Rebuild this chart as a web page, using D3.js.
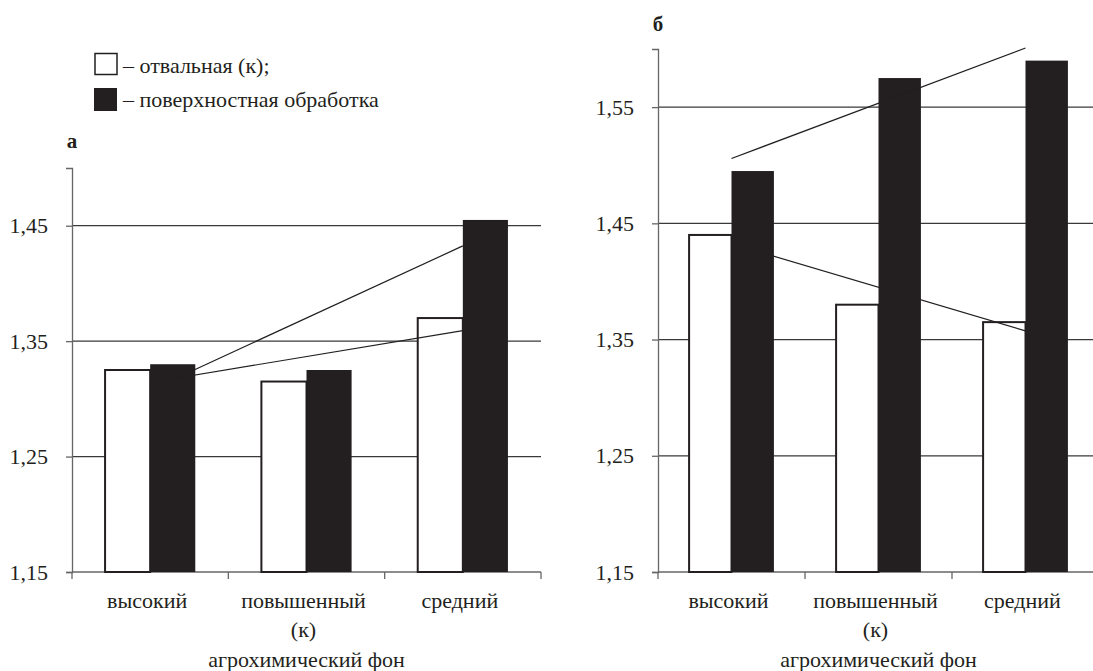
<!DOCTYPE html>
<html>
<head>
<meta charset="utf-8">
<script src="https://cdn.jsdelivr.net/npm/d3@7"></script>
</head>
<body style="margin:0;padding:0;background:#fff">
<svg id="fig" width="1093" height="671"></svg>
<script>
// ---- data ----
const categories = ["высокий", "повышенный\n(к)", "средний"];
const seriesNames = ["– отвальная (к);", "– поверхностная обработка"];
const panelA_plough = [1.325, 1.315, 1.37];
const panelA_surface = [1.33, 1.325, 1.455];
const panelB_plough = [1.44, 1.38, 1.365];
const panelB_surface = [1.495, 1.575, 1.59];
const panelA_ticks = [1.15, 1.25, 1.35, 1.45];
const panelB_ticks = [1.15, 1.25, 1.35, 1.45, 1.55];
const xTitle = "агрохимический фон";

const FONT = "Liberation Serif";
const FS = 22;
const svg = d3.select("#fig");
const ink = "#231f20";
const fmt = v => d3.format(".2f")(v).replace(".", ",");
const serif = sel => sel.attr("font-family", FONT).style("font-family", "'Liberation Serif', serif", "important");

function linFit(vals) {
  const n = vals.length, xs = d3.range(n);
  const mx = d3.mean(xs), my = d3.mean(vals);
  const b = d3.sum(xs, (x, i) => (x - mx) * (vals[i] - my)) / d3.sum(xs, x => (x - mx) ** 2);
  return x => my + b * (x - mx);
}

function panel(cfg) {
  const g = svg.append("g");
  const x = d3.scaleBand().domain(categories).range([cfg.x0, cfg.x1]).padding(0);
  const y = d3.scaleLinear().domain(cfg.domain).range([572, cfg.top]);
  const bw = x.step() * 0.2885;

  g.append("g").selectAll("line").data(cfg.ticks.slice(1)).join("line")
    .attr("x1", cfg.x0).attr("x2", cfg.x1)
    .attr("y1", d => y(d)).attr("y2", d => y(d))
    .attr("stroke", "#3a3a3a").attr("stroke-width", 1.2);

  const ya = g.append("g").attr("transform", `translate(${cfg.x0},0)`)
    .call(d3.axisLeft(y).tickValues(cfg.ticks).tickFormat(fmt).tickSize(6).tickPadding(18));
  ya.call(serif).attr("font-size", FS);
  ya.select(".domain").attr("stroke", "#666").attr("stroke-width", 1.3);
  ya.selectAll(".tick line").attr("stroke", "#666").attr("stroke-width", 1.3);
  ya.selectAll(".tick text").call(serif).attr("font-size", FS).attr("fill", ink);

  g.append("line").attr("x1", cfg.x0).attr("x2", cfg.x1).attr("y1", y(cfg.domain[0])).attr("y2", y(cfg.domain[0]))
    .attr("stroke", "#666").attr("stroke-width", 1.3);
  const bounds = categories.map(c => x(c)).concat([cfg.x1]);
  g.append("g").selectAll("line").data(bounds).join("line")
    .attr("x1", d => d).attr("x2", d => d).attr("y1", 572).attr("y2", 579)
    .attr("stroke", "#666").attr("stroke-width", 1.3);

  const cx = c => x(c) + x.bandwidth() / 2;
  g.append("g").selectAll("rect").data(categories).join("rect")
    .attr("x", c => cx(c) - bw).attr("width", bw)
    .attr("y", (c, i) => y(cfg.plough[i])).attr("height", (c, i) => 572 - y(cfg.plough[i]))
    .attr("fill", "#fff").attr("stroke", ink).attr("stroke-width", 2);
  g.append("g").selectAll("rect").data(categories).join("rect")
    .attr("x", c => cx(c)).attr("width", bw)
    .attr("y", (c, i) => y(cfg.surface[i])).attr("height", (c, i) => 572 - y(cfg.surface[i]))
    .attr("fill", ink);

  [cfg.plough, cfg.surface].forEach(vals => {
    const f = linFit(vals);
    const n = vals.length;
    g.append("line")
      .attr("x1", cx(categories[0])).attr("y1", y(f(0)))
      .attr("x2", cx(categories[n - 1])).attr("y2", y(f(n - 1)))
      .attr("stroke", ink).attr("stroke-width", 1.2);
  });

  g.append("g").selectAll("text").data(categories).join("text")
    .attr("text-anchor", "middle").call(serif).attr("font-size", FS).attr("fill", ink)
    .each(function (c) {
      const t = d3.select(this);
      c.split("\n").forEach((line, k) => {
        t.append("tspan").attr("x", cx(c) - 3).attr("y", 608 + k * 29).text(line);
      });
    });

  g.append("text").attr("x", (cfg.x0 + cfg.x1) / 2).attr("y", 667)
    .attr("text-anchor", "middle").call(serif).attr("font-size", FS).attr("fill", ink).text(xTitle);

  g.append("text").attr("x", cfg.x0).attr("y", cfg.letterY)
    .attr("text-anchor", "middle").call(serif).attr("font-size", 21)
    .attr("font-weight", "bold").attr("fill", ink).text(cfg.letter);
}

panel({ x0: 72, x1: 541, top: 168, domain: [1.15, 1.50], ticks: panelA_ticks,
        plough: panelA_plough, surface: panelA_surface, letter: "а", letterY: 148 });
panel({ x0: 658, x1: 1099, top: 49, domain: [1.15, 1.60], ticks: panelB_ticks,
        plough: panelB_plough, surface: panelB_surface, letter: "б", letterY: 31 });

const leg = svg.append("g");
leg.append("rect").attr("x", 95).attr("y", 53.5).attr("width", 22).attr("height", 21)
  .attr("fill", "#fff").attr("stroke", ink).attr("stroke-width", 1.5);
leg.append("rect").attr("x", 94).attr("y", 88).attr("width", 23).attr("height", 23).attr("fill", ink);
leg.selectAll("text").data(seriesNames).join("text")
  .attr("x", 123).attr("y", (d, i) => 73 + i * 34).call(serif).attr("font-size", FS)
  .attr("fill", ink).text(d => d);
</script>
</body>
</html>
